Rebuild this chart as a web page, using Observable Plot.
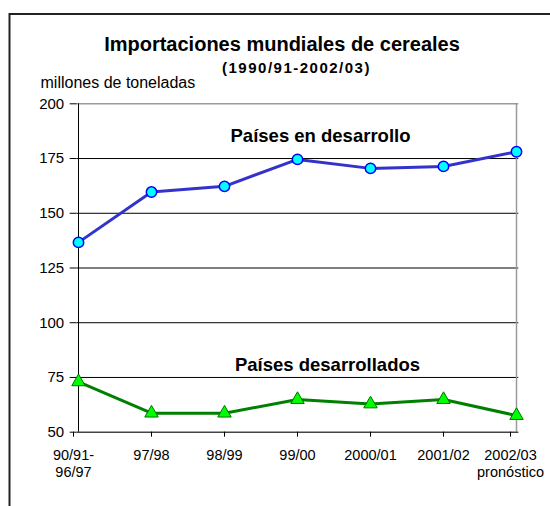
<!DOCTYPE html>
<html>
<head>
<meta charset="utf-8">
<script src="https://cdn.jsdelivr.net/npm/d3@7"></script>
<script src="https://cdn.jsdelivr.net/npm/@observablehq/plot@0.6"></script>
<style>
  html, body { margin: 0; padding: 0; background: #fff; }
  #chart { position: relative; width: 550px; height: 506px; overflow: hidden; }
</style>
</head>
<body>
<div id="chart"></div>
<script>
// ---- data ----
const categories = ["90/91-\n96/97", "97/98", "98/99", "99/00", "2000/01", "2001/02", "2002/03\npronóstico"];
const developing = [136.7, 159.7, 162.3, 174.6, 170.5, 171.4, 178.1];
const developed  = [73.0, 58.7, 58.7, 64.9, 62.9, 64.9, 57.6];
const yTicks = [50, 75, 100, 125, 150, 175, 200];
const gridValues = [75, 100, 125, 150, 175];
const titleText = "Importaciones mundiales de cereales";
const subtitleText = "(1990/91-2002/03)";
const yLabelText = "millones de toneladas";
const seriesLabels = ["Países en desarrollo", "Países desarrollados"];

const devRows = categories.map((c, i) => ({cat: c, value: developing[i]}));
const dedRows = categories.map((c, i) => ({cat: c, value: developed[i]}));

const W = 550, H = 506;
const mL = 76.7, mR = 31.7, mT = 103.3, mB = 74.3;

const svg = Plot.plot({
  width: W,
  height: H,
  marginLeft: mL,
  marginRight: mR,
  marginTop: mT,
  marginBottom: mB,
  style: {fontFamily: "'Liberation Sans', Arial, sans-serif", color: "black", background: "white", overflow: "visible"},
  x: {type: "point", domain: categories, padding: 0},
  y: {domain: [50, 200]},
  marks: [
    Plot.ruleY(gridValues, {stroke: "black", strokeWidth: 1}),
    Plot.ruleY([200], {stroke: "#9a9a9a", strokeWidth: 1.5}),
    Plot.ruleX([categories[categories.length - 1]], {stroke: "#9a9a9a", strokeWidth: 1.5}),
    Plot.ruleY([50], {stroke: "#444", strokeWidth: 1.5}),
    Plot.ruleX([categories[0]], {stroke: "black", strokeWidth: 1}),
    Plot.axisY({ticks: yTicks, tickSize: 7, tickPadding: 6, fontSize: 15, label: null, stroke: "black"}),
    Plot.axisX({ticks: categories.slice(1, 6), tickSize: 5, tickPadding: 11, fontSize: 14.5, lineHeight: 1.15, label: null}),
    Plot.axisX({ticks: [categories[0]], tickSize: 5, tickPadding: 11, fontSize: 14.5, lineHeight: 1.15, label: null, dx: -5}),
    Plot.axisX({ticks: [categories[6]], tickSize: 5, tickPadding: 11, fontSize: 14.5, lineHeight: 1.15, label: null, dx: -6}),
    Plot.line(devRows, {x: "cat", y: "value", stroke: "#3333CC", strokeWidth: 3}),
    Plot.dot(devRows, {x: "cat", y: "value", r: 5.2, fill: "#00FFFF", stroke: "#0000FF", strokeWidth: 1.5}),
    Plot.line(dedRows, {x: "cat", y: "value", stroke: "#008000", strokeWidth: 3}),
    Plot.dot(dedRows, {x: "cat", y: "value", symbol: "triangle", r: 5, fill: "#00FF00", stroke: "#007000", strokeWidth: 1}),
    Plot.text([titleText], {text: d => d, frameAnchor: "top-left", textAnchor: "middle", lineAnchor: "bottom", dx: 281.5 - mL, dy: 50 - mT, fontSize: 20, fontWeight: "bold"}),
    Plot.text([subtitleText], {text: d => d, frameAnchor: "top-left", textAnchor: "middle", lineAnchor: "bottom", dx: 296 - mL, dy: 72.3 - mT, fontSize: 15, fontWeight: "bold"}),
    Plot.text([yLabelText], {text: d => d, frameAnchor: "top-left", textAnchor: "start", lineAnchor: "bottom", dx: 40 - mL, dy: 87 - mT, fontSize: 16}),
    Plot.text([seriesLabels[0]], {text: d => d, frameAnchor: "top-left", textAnchor: "middle", lineAnchor: "bottom", dx: 320 - mL, dy: 141.7 - mT, fontSize: 18.5, fontWeight: "bold"}),
    Plot.text([seriesLabels[1]], {text: d => d, frameAnchor: "top-left", textAnchor: "middle", lineAnchor: "bottom", dx: 327 - mL, dy: 370 - mT, fontSize: 18.5, fontWeight: "bold"})
  ]
});

// subtitle in the reference is spaced out
d3.select(svg).selectAll("text")
  .filter(function() { return this.textContent === subtitleText; })
  .style("letter-spacing", "1.5px");

// outer chart-area frame (extends beyond the right and bottom edges)
d3.select(svg).insert("path", ":first-child")
  .attr("d", "M9.5,520V14H600")
  .attr("fill", "none")
  .attr("stroke", "#222")
  .attr("stroke-width", 2);

document.getElementById("chart").appendChild(svg);
</script>
</body>
</html>
